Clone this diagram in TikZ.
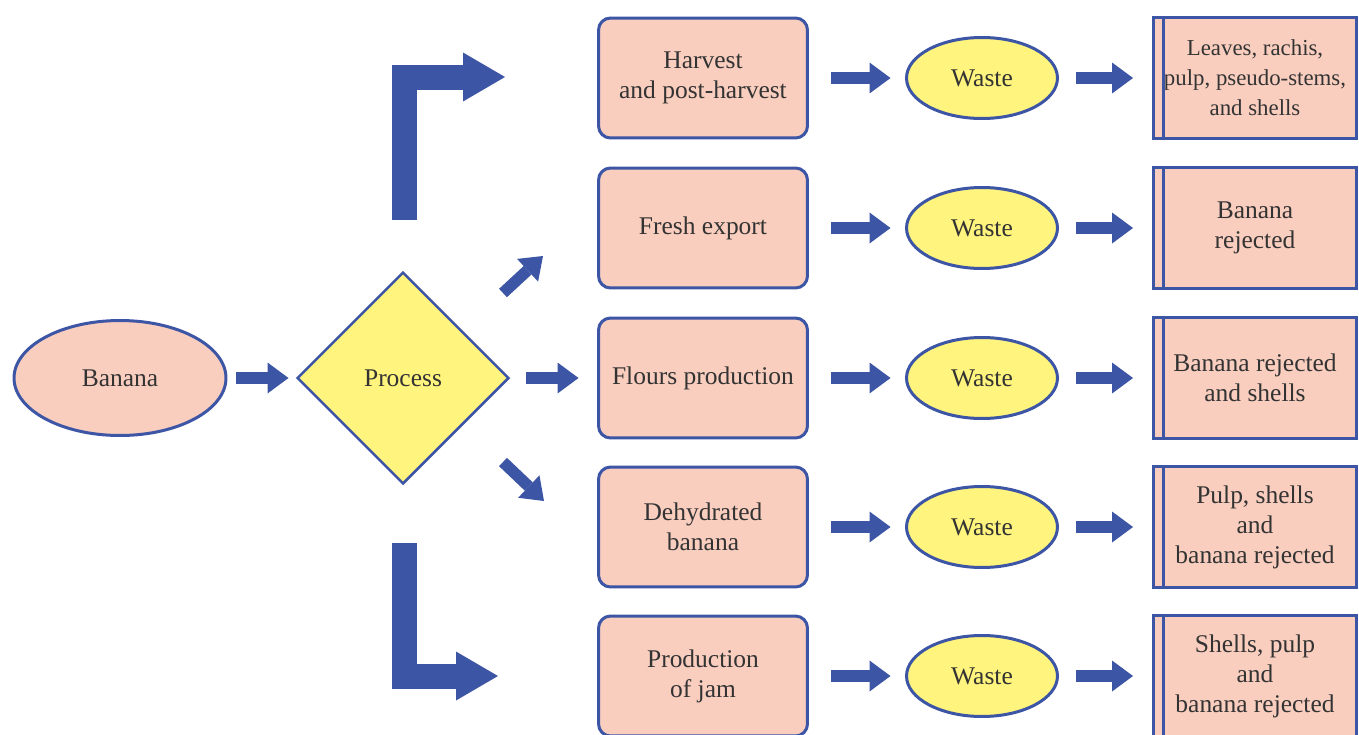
\documentclass[tikz,border=0pt]{standalone}
\usepackage{fontspec}
\setmainfont{Liberation Serif}
\usepackage{xcolor}
\usepackage{tikz}
\usetikzlibrary{shapes.geometric, arrows.meta}
\definecolor{flowblue}{HTML}{3D55A5}
\definecolor{salmon}{HTML}{F9CEBF}
\definecolor{wasteyellow}{HTML}{FFF47D}
\definecolor{textgrey}{HTML}{333333}

\tikzset{
    stepbox/.style={draw=flowblue, fill=salmon, line width=0.06cm, rounded corners=0.24cm,
        minimum width=4.18cm, minimum height=2.4cm, align=center, outer sep=0pt},
    residuebox/.style={draw=flowblue, fill=salmon, line width=0.06cm,
        minimum width=4.08cm, minimum height=2.42cm, align=center, outer sep=0pt},
    residueline/.style={draw=flowblue, line width=0.06cm},
    wastenode/.style={ellipse, draw=flowblue, fill=wasteyellow, line width=0.06cm,
        minimum width=3.02cm, minimum height=1.62cm, outer sep=0pt},
    bananode/.style={ellipse, draw=flowblue, fill=salmon, line width=0.06cm,
        minimum width=4.24cm, minimum height=2.3cm, outer sep=0pt},
    decision/.style={diamond, aspect=1, draw=flowblue, fill=wasteyellow, line width=0.05cm,
        minimum width=4.22cm, minimum height=4.22cm, inner sep=0pt, outer sep=0pt},
    flowarrow/.style={draw=flowblue, line width=0.23cm,
        -{Triangle[length=0.42cm, width=0.62cm, line width=0pt]}},
    bigarrow/.style={draw=flowblue, line width=0.5cm, line join=miter,
        -{Triangle[length=0.84cm, width=0.98cm, line width=0pt]}},
}

\begin{document}
\begin{tikzpicture}[x=0.02cm, y=-0.02cm, font=\fontsize{14.5}{17}\selectfont, text=textgrey]
    \useasboundingbox (0,0) rectangle (1359,734);

    \node[bananode] (banana) at (120,378) {Banana};
    \node[decision] (process) at (403,378) {Process};

    \node[stepbox] (harvest) at (703,78) {Harvest\\and post-harvest};
    \node[stepbox] (fresh) at (703,228) {Fresh export};
    \node[stepbox] (flours) at (703,378) {Flours production};
    \node[stepbox] (dehydrated) at (703,527) {Dehydrated\\banana};
    \node[stepbox] (jam) at (703,676) {Production\\of jam};

    \foreach \row/\y in {1/78, 2/228, 3/378, 4/527, 5/676}
        \node[wastenode] (waste\row) at (982,\y) {Waste};

    \node[residuebox, font=\fontsize{13}{17}\selectfont] (residue1) at (1255,78) {Leaves, rachis,\\pulp, pseudo-stems,\\and shells};
    \node[residuebox] (residue2) at (1255,228) {Banana\\rejected};
    \node[residuebox] (residue3) at (1255,378) {Banana rejected\\and shells};
    \node[residuebox] (residue4) at (1255,527) {Pulp, shells\\and\\banana rejected};
    \node[residuebox] (residue5) at (1255,676) {Shells, pulp\\and\\banana rejected};
    \foreach \row in {1,...,5}
        \draw[residueline] ([xshift=0.2cm]residue\row.north west) -- ([xshift=0.2cm]residue\row.south west);

    % connectors
    \draw[flowarrow, shorten <=0.2cm, shorten >=0.18cm] (banana) -- (process);
    \draw[flowarrow, shorten <=0.36cm, shorten >=0.4cm] (process.east) -- (flours.west);

    \coordinate (upfrom) at (503,293);
    \coordinate (upto) at (543,256);
    \coordinate (downfrom) at (503,462);
    \coordinate (downto) at (544,501);
    \draw[flowarrow] (upfrom) -- (upto);
    \draw[flowarrow] (downfrom) -- (downto);

    \coordinate (topstart) at (404.5,220);
    \coordinate (topend) at (505,77);
    \coordinate (botstart) at (404.5,543);
    \coordinate (botend) at (498,676);
    \draw[bigarrow] (topstart) |- (topend);
    \draw[bigarrow] (botstart) |- (botend);

    \foreach \src/\row in {harvest/1, fresh/2, flours/3, dehydrated/4, jam/5} {
        \draw[flowarrow, shorten <=0.48cm, shorten >=0.32cm] (\src.east) -- (waste\row.west);
        \draw[flowarrow, shorten <=0.38cm, shorten >=0.4cm] (waste\row.east) -- (residue\row.west);
    }
\end{tikzpicture}
\end{document}
